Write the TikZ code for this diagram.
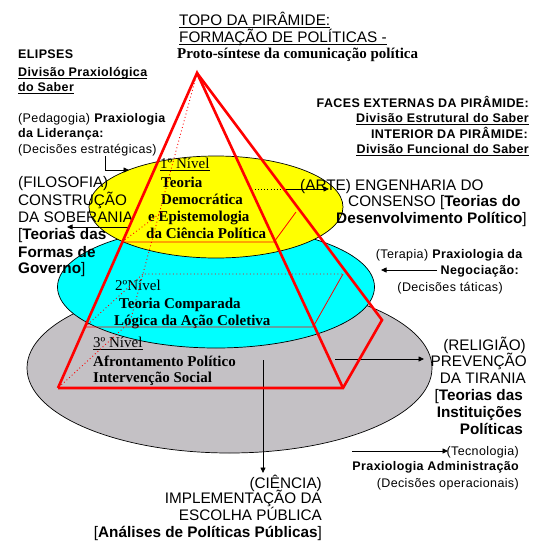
\documentclass[tikz,border=0pt]{standalone}
\usepackage{fontspec}
\usetikzlibrary{arrows.meta}
\newfontfamily\arS[LetterSpace=3]{Liberation Sans}
\newfontfamily\arL{Liberation Sans}
\newfontfamily\tmf{Liberation Serif}
\definecolor{pyrred}{RGB}{255,0,0}
\definecolor{ellgray}{RGB}{196,193,197}
\definecolor{ellyel}{RGB}{255,255,0}
\definecolor{ellcyan}{RGB}{0,255,255}
\tikzset{
  tl/.style={inner sep=0pt, anchor=base west},
  tr/.style={inner sep=0pt, anchor=base east},
  sm/.style={font=\arS\fontsize{12.5}{14}\selectfont},
  lg/.style={font=\arL\fontsize{15.3}{17}\selectfont},
  tms/.style={font=\tmf\fontsize{15}{17}\selectfont},
  ul/.style={line width=0.9pt},
  ell/.style={draw=black, line width=0.7pt},
  thick red/.style={draw=pyrred, line width=2.6pt, line join=miter},
  thin red/.style={draw=pyrred, line width=0.8pt},
  dot red/.style={draw=pyrred, line width=0.9pt, dash pattern=on 0.9pt off 2.6pt},
  arr/.style={draw=black, line width=0.8pt, -{Triangle[length=5.5pt,width=5pt]}},
  blkdot/.style={draw=black, line width=0.8pt, dash pattern=on 0.9pt off 2.2pt}
}
\begin{document}
\begin{tikzpicture}[x=1pt,y=-1pt]
\fill[white] (0,0) rectangle (551,557);
\useasboundingbox (0,0) rectangle (551,557);

% ellipses
\draw[ell, fill=ellgray] (229.5,368) ellipse [x radius=202.5pt, y radius=85pt];
\draw[ell, fill=ellcyan] (216,287) ellipse [x radius=158.5pt, y radius=61pt];
\draw[ell, fill=ellyel] (216,207) ellipse [x radius=127pt, y radius=51pt];

% top texts
\node[tl,lg] (topo1) at (179,25) {TOPO DA PIRÂMIDE:};
\node[tl,lg] (topo2) at (179,42) {FORMAÇÃO DE POLÍTICAS -};
\node[tl,tms] (proto) at (177,58) {\bfseries Proto-síntese da comunicação política};

% left column
\node[tl,sm] (elip) at (18,58) {\bfseries ELIPSES};
\node[tl,sm] (dpx1) at (18,76) {\bfseries Divisão Praxiológica};
\node[tl,sm] (dpx2) at (18,91) {\bfseries do Saber};
\node[tl,sm] (ped) at (18,122) {(Pedagogia) \textbf{Praxiologia}};
\node[tl,sm] (lid) at (18,137) {\bfseries da Liderança:};
\node[tl,sm] (dest) at (18,153) {(Decisões estratégicas)};

\node[tl,lg] (filo1) at (18,187) {(FILOSOFIA)};
\node[tl,lg] (filo2) at (18,205) {CONSTRUÇÃO};
\node[tl,lg] (filo3) at (18,222) {DA SOBERANIA};
\node[tl,lg] (filo4) at (18,239) {[\textbf{Teorias das}};
\node[tl,lg] (filo5) at (18,257) {\bfseries Formas de};
\node[tl,lg] (filo6) at (18,273) {\textbf{Governo}]};

% right column
\node[tr,sm] (faces) at (529,107) {\bfseries FACES EXTERNAS DA PIRÂMIDE:};
\node[tr,sm] (destr) at (529,122) {\bfseries Divisão Estrutural do Saber};
\node[tr,sm] (inter) at (528,138) {\bfseries INTERIOR DA PIRÂMIDE:};
\node[tr,sm] (dfun) at (529,153) {\bfseries Divisão Funcional do Saber};

\node[tl,lg] (arte1) at (300,190) {(ARTE) ENGENHARIA DO};
\node[tl,lg] (arte2) at (348,206) {CONSENSO [\textbf{Teorias do}};
\node[tl,lg] (arte3) at (336,223) {\textbf{Desenvolvimento Político}]};

\node[tr,sm] (ter1) at (523,258) {(Terapia) \textbf{Praxiologia da}};
\node[tr,sm] (ter2) at (519,274) {\bfseries Negociação:};
\node[tr,sm] (ter3) at (503,291) {(Decisões táticas)};

\node[tr,lg] (rel1) at (526,350) {(RELIGIÃO)};
\node[tr,lg] (rel2) at (527,366) {PREVENÇÃO};
\node[tr,lg] (rel3) at (526,383) {DA TIRANIA};
\node[tr,lg] (rel4) at (523,400) {[\textbf{Teorias das}};
\node[tr,lg] (rel5) at (522,417) {\bfseries Instituições};
\node[tr,lg] (rel6) at (523,434) {\bfseries Políticas};

\node[tr,sm] (tec1) at (519,455) {(Tecnologia)};
\node[tr,sm] (tec2) at (519,470) {\bfseries Praxiologia Administração};
\node[tr,sm] (tec3) at (519,487) {(Decisões operacionais)};

\node[tr,lg] (cie1) at (322,488) {(CIÊNCIA)};
\node[tr,lg] (cie2) at (322,503) {IMPLEMENTAÇÃO DA};
\node[tr,lg] (cie3) at (322,520) {ESCOLHA PÚBLICA};
\node[tr,lg] (cie4) at (322,537) {[\textbf{Análises de Políticas Públicas}]};

% ellipse texts
\node[tl,tms] (n1) at (160,168) {1º Nível};
\node[tl,tms] (n1a) at (161,187) {\bfseries Teoria};
\node[tl,tms] (n1b) at (161,204) {\bfseries Democrática};
\node[tl,tms] (n1c) at (148,221) {\bfseries e Epistemologia};
\node[tl,tms] (n1d) at (146,238) {\bfseries da Ciência Política};
\node[tl,tms] (n2) at (115,290) {2ºNível};
\node[tl,tms] (n2a) at (119,308) {\bfseries Teoria Comparada};
\node[tl,tms] (n2b) at (114,325) {\bfseries Lógica da Ação Coletiva};
\node[tl,tms] (n3) at (93,347) {3º Nível};
\node[tl,tms] (n3a) at (93,366) {\bfseries Afrontamento Político};
\node[tl,tms] (n3b) at (93,382) {\bfseries Intervenção Social};

% underlines
\foreach \n in {topo1,topo2,dpx1,dpx2,destr,dfun,n1,n3}
  \draw[ul] ([yshift=-2.2pt]\n.base west) -- ([yshift=-2.2pt]\n.base east);

% pyramid coordinates
\coordinate (A) at (197,73);
\coordinate (L) at (58,388);
\coordinate (R1) at (343,388);
\coordinate (R2) at (382,320);
\coordinate (BL) at (130,322);
\coordinate (P1L) at (122,242);
\coordinate (P1R) at (274,242);
\coordinate (P1B) at (296,212);
\coordinate (P1BL) at (162,212);
\coordinate (P2L) at (85,327);
\coordinate (P2R) at (313,327);
\coordinate (P2B) at (343,274);
\coordinate (P2BL) at (143,274);

% arrows
\coordinate (dA) at (105,156);
\coordinate (dB) at (105,170);
\coordinate (dC) at (129,170);
\draw[arr] (dA) -- (dB) -- (dC);
\coordinate (fA) at (129,227);
\coordinate (fB) at (67,227);
\draw[arr] (fA) -- (fB);
\coordinate (aA) at (255,189);
\coordinate (aB) at (284,189);
\coordinate (aC) at (329,189);
\draw[blkdot] (aA) -- (aB);
\draw[arr] (aB) -- (aC);
\coordinate (tA) at (437,270);
\coordinate (tB) at (381,270);
\draw[arr] (tA) -- (tB);
\coordinate (rA) at (335,359);
\coordinate (rB) at (424,359);
\draw[arr] (rA) -- (rB);
\coordinate (vA) at (263,360);
\coordinate (vB) at (263,473);
\draw[arr] (vA) -- (vB);
\coordinate (eA) at (352,451);
\coordinate (eB) at (448,451);
\draw[arr] (eA) -- (eB);

% hidden edges
\draw[dot red] (A) -- (BL) -- (L);
\draw[dot red] (P1BL) -- (P1L);
\draw[dot red] (P2L) -- (P2BL) -- (P2B);
% level sections
\draw[thin red] (P1L) -- (P1R) -- (P1B);
\draw[thin red] (P2L) -- (P2R) -- (P2B);
% pyramid faces
\draw[thick red] (L) -- (A) -- (R1);
\draw[thick red] (A) -- (R2) -- (R1) -- (L);
\end{tikzpicture}
\end{document}
